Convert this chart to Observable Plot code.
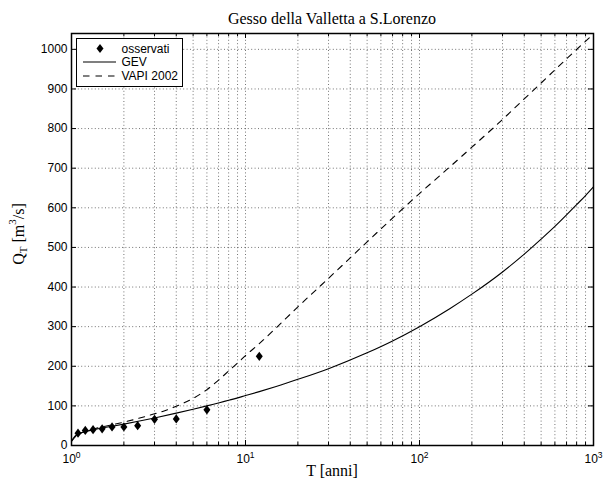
<!DOCTYPE html>
<html><head><meta charset="utf-8">
<script src="https://cdn.jsdelivr.net/npm/d3@7"></script>
<script src="https://cdn.jsdelivr.net/npm/@observablehq/plot@0.6"></script>
<style>body{margin:0;background:#fff} svg{display:block}</style>
</head><body><div id="chart"></div>
<script>
// ---- data ----
const title = "Gesso della Valletta a S.Lorenzo";
const seriesNames = ["osservati", "GEV", "VAPI 2002"];

const obsT = [12, 6, 4, 3, 2.4, 2, 1.71, 1.5, 1.33, 1.2, 1.09];
const obsQ = [225, 90, 67, 66, 50, 47, 47, 42, 40, 38, 31];

const gevT = [1.005, 1.05, 1.1, 1.2, 1.35, 1.5, 1.7, 2, 2.5, 3, 4, 5, 6, 8, 10, 12, 15, 20, 30, 50, 70, 100, 150, 200, 300, 400, 500, 600, 700, 800, 900, 1000];
const gevQ = [13, 24, 29.6, 35.3, 40.4, 44.2, 48.4, 54, 62.3, 69.6, 81.7, 91.6, 100, 114, 126, 136, 149, 167, 194, 234, 264, 300, 346, 382, 438, 483, 521, 553, 582, 608, 631, 653];

const vapiT = [1.005, 1.05, 1.1, 1.2, 1.35, 1.5, 1.7, 2, 2.5, 3, 3.5, 4, 5, 6, 7, 8, 9, 10, 12, 15, 20, 30, 50, 70, 100, 150, 200, 300, 400, 500, 700, 1000];
const vapiQ = [11.5, 22, 29, 36, 42, 47, 52, 59, 70, 80, 89, 99, 119, 141, 165, 188, 208, 227, 257, 297, 350, 422, 514, 574, 636, 704, 753, 823, 875, 915, 976, 1039];

const yTicks = [0, 100, 200, 300, 400, 500, 600, 700, 800, 900, 1000];
const xMajor = [1, 10, 100, 1000];
const xMinor = [2, 3, 4, 5, 6, 7, 8, 9, 20, 30, 40, 50, 60, 70, 80, 90, 200, 300, 400, 500, 600, 700, 800, 900];

// ---- tables ----
const obs = obsT.map((T, i) => ({T, Q: obsQ[i]}));
const gev = gevT.map((T, i) => ({T, Q: gevQ[i]}));
const vapi = vapiT.map((T, i) => ({T, Q: vapiQ[i]}));

const W = 604, H = 486, mL = 71, mR = 11, mT = 33, mB = 41;
const innerW = W - mL - mR, innerH = H - mT - mB;

const diamond = {draw(ctx) { const w = 3.5, h = 4.6; ctx.moveTo(0, -h); ctx.lineTo(w, 0); ctx.lineTo(0, h); ctx.lineTo(-w, 0); ctx.closePath(); }};
const grid = {stroke: "#000", strokeOpacity: 0.55, strokeWidth: 1, strokeDasharray: "1,2.4"};
const xGrid = [...xMinor, 10, 100].sort((a, b) => a - b);

const svg = Plot.plot({
  width: W, height: H,
  marginLeft: mL, marginRight: mR, marginTop: mT, marginBottom: mB,
  style: {fontFamily: "'Liberation Sans', Arial, sans-serif", fontSize: "12px", background: "#fff", color: "#000", overflow: "visible"},
  x: {type: "log", domain: [1, 1000]},
  y: {domain: [0, 1040]},
  marks: [
    Plot.ruleX(xGrid, {x: d => d, ...grid}),
    Plot.ruleY(yTicks.filter(v => v > 0 && v < 1040), {y: d => d, ...grid}),
    Plot.line(gev, {x: "T", y: "Q", stroke: "#000", strokeWidth: 1.1, curve: "monotone-x"}),
    Plot.line(vapi, {x: "T", y: "Q", stroke: "#000", strokeWidth: 1.1, strokeDasharray: "6,6", curve: "monotone-x"}),
    Plot.dot(obs, {x: "T", y: "Q", symbol: diamond, r: 4, fill: "#000", stroke: "none"}),
    // inward ticks
    Plot.tickX(xMajor, {x: d => d, insetTop: innerH - 5, stroke: "#000"}),
    Plot.tickX(xMajor, {x: d => d, insetBottom: innerH - 5, stroke: "#000"}),
    Plot.tickX(xMinor, {x: d => d, insetTop: innerH - 3, stroke: "#000"}),
    Plot.tickX(xMinor, {x: d => d, insetBottom: innerH - 3, stroke: "#000"}),
    Plot.tickY(yTicks, {y: d => d, insetRight: innerW - 5, stroke: "#000"}),
    Plot.tickY(yTicks, {y: d => d, insetLeft: innerW - 5, stroke: "#000"}),
    Plot.frame({stroke: "#000", strokeWidth: 1.5}),
    Plot.axisX({ticks: xMajor, tickSize: 0, tickPadding: 9, tickFormat: d => "10^" + Math.round(Math.log10(d)), label: null}),
    Plot.axisY({ticks: yTicks, tickSize: 0, tickPadding: 4, tickFormat: d => String(d), label: null})
  ]
});
document.getElementById("chart").appendChild(svg);

// superscript exponents on x tick labels
d3.select(svg).selectAll('g[aria-label="x-axis tick label"] text').each(function () {
  const s = this.textContent;
  if (!s.includes("^")) return;
  const [b, e] = s.split("^");
  const t = d3.select(this);
  t.text(null);
  t.append("tspan").text(b);
  t.append("tspan").attr("dy", "-5").attr("font-size", "8.5px").text(e);
});

const root = d3.select(svg);
const serif = "'Liberation Serif', 'Times New Roman', serif";
// title
root.append("text").attr("x", mL + innerW / 2).attr("y", 24).attr("text-anchor", "middle")
  .attr("font-family", serif).attr("font-size", "16px").attr("fill", "#000").text(title);
// x label
root.append("text").attr("x", mL + innerW / 2).attr("y", 476).attr("text-anchor", "middle")
  .attr("font-family", serif).attr("font-size", "16px").attr("fill", "#000").text("T [anni]");
// y label with sub/superscript
const yl = root.append("text").attr("transform", "translate(23.5,234) rotate(-90)").attr("text-anchor", "middle")
  .attr("font-family", serif).attr("font-size", "16px").attr("fill", "#000");
yl.append("tspan").text("Q");
yl.append("tspan").attr("font-size", "11px").attr("dy", "3.5").text("T");
yl.append("tspan").attr("dy", "-3.5").text(" [m");
yl.append("tspan").attr("font-size", "11px").attr("dy", "-8").text("3");
yl.append("tspan").attr("dy", "8").text("/s]");

// legend
const lg = root.append("g").attr("font-family", "'Liberation Sans', Arial, sans-serif").attr("font-size", "12px").attr("text-anchor", "start");
lg.append("rect").attr("x", 76.5).attr("y", 38.5).attr("width", 106).attr("height", 48)
  .attr("fill", "#fff").attr("stroke", "#000").attr("stroke-width", 1);
const rows = [48.5, 62, 76];
lg.append("path").attr("d", "M100,43.9 L103.5,48.5 L100,53.1 L96.5,48.5 Z").attr("fill", "#000");
lg.append("line").attr("x1", 83).attr("x2", 116).attr("y1", rows[1]).attr("y2", rows[1]).attr("stroke", "#000").attr("stroke-width", 1.1);
lg.append("line").attr("x1", 83).attr("x2", 116).attr("y1", rows[2]).attr("y2", rows[2]).attr("stroke", "#000").attr("stroke-width", 1.1).attr("stroke-dasharray", "6.5,6");
seriesNames.forEach((n, i) => {
  lg.append("text").attr("x", 121.5).attr("y", rows[i] + 4.3).attr("text-anchor", "start").attr("fill", "#000").text(n);
});
</script>
</body></html>
